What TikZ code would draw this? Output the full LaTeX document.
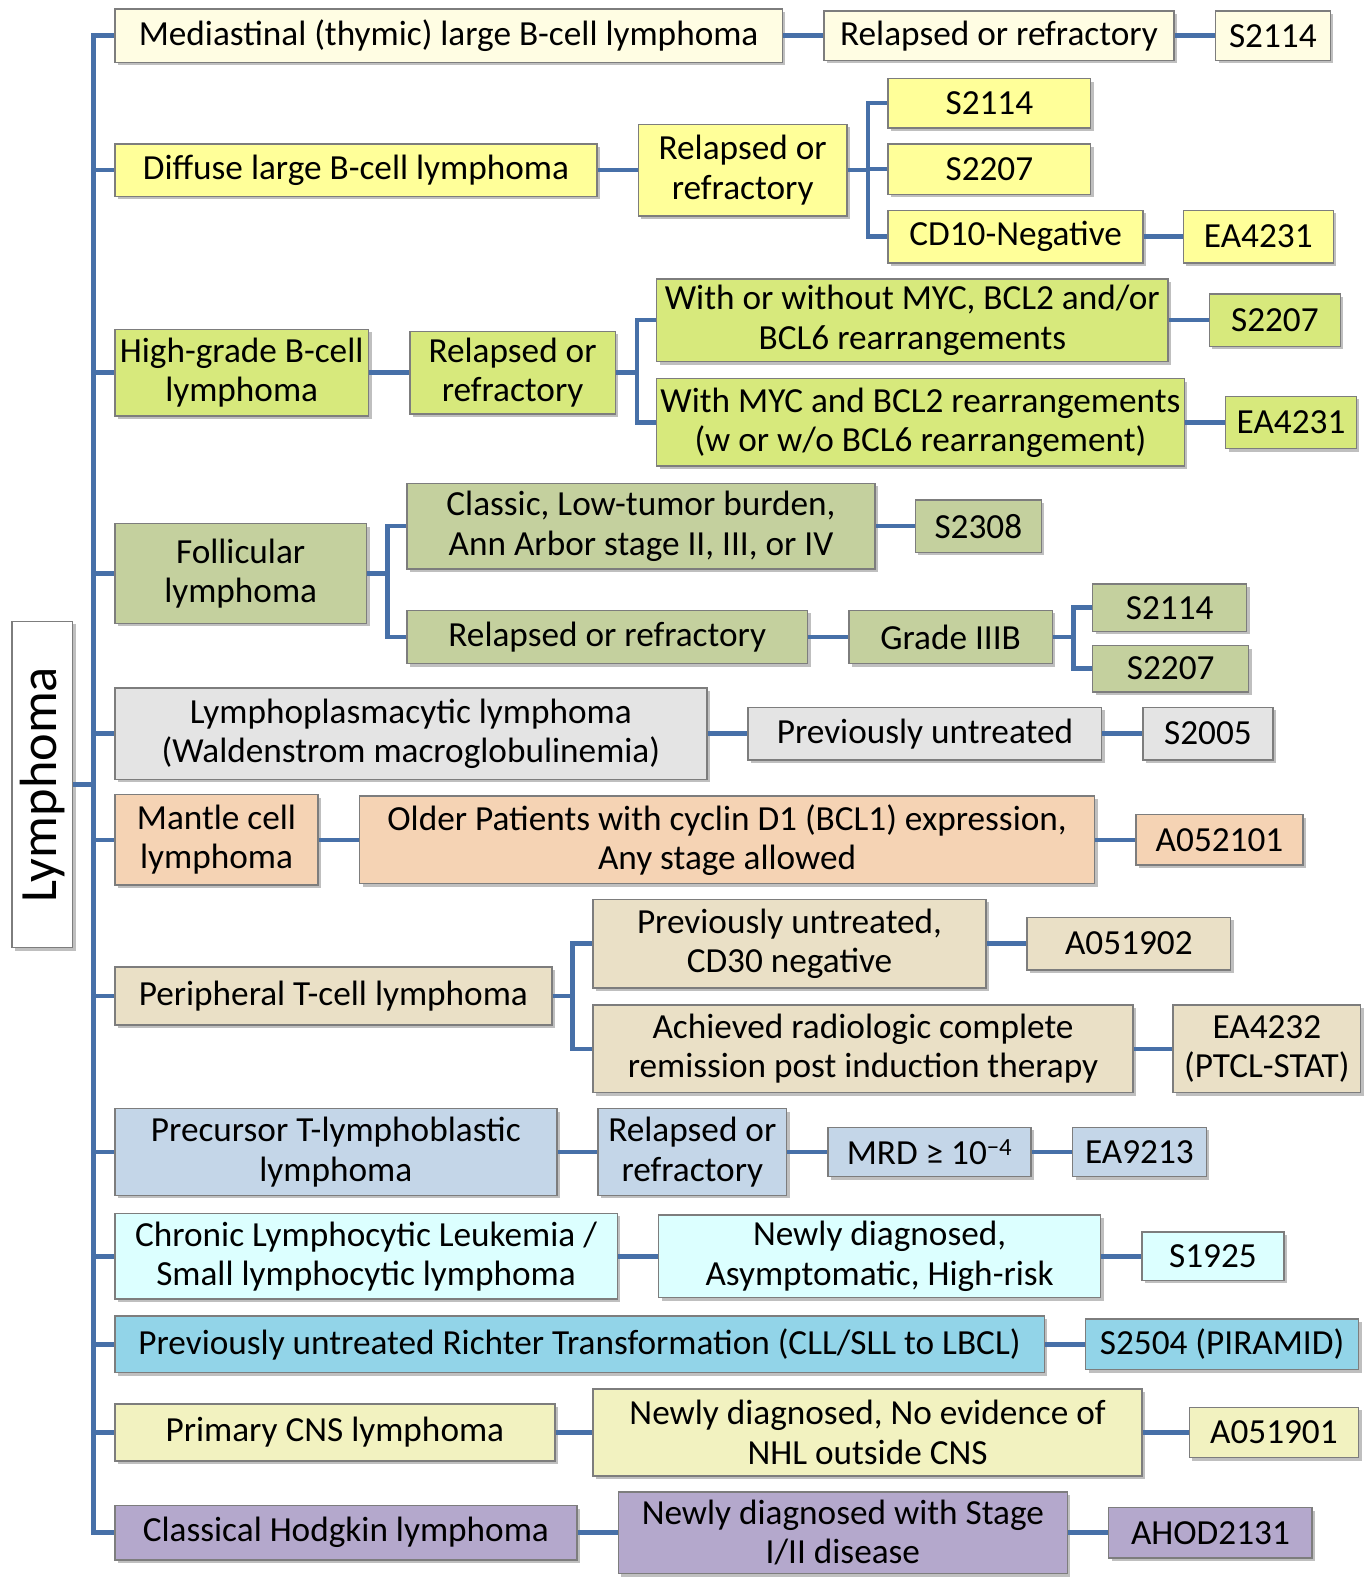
\documentclass[tikz,border=0pt]{standalone}
\usepackage{fontspec}
\setmainfont{Carlito}
\usepackage{tikz}
\usetikzlibrary{shadows}
\definecolor{lnkblue}{RGB}{71,112,168}
\definecolor{bordgray}{RGB}{125,125,125}
\definecolor{ccream}{RGB}{255,253,227}
\definecolor{cyel}{RGB}{255,255,153}
\definecolor{clime}{RGB}{215,233,124}
\definecolor{colive}{RGB}{196,208,158}
\definecolor{cgray}{RGB}{228,228,228}
\definecolor{cpeach}{RGB}{245,211,180}
\definecolor{ctan}{RGB}{234,224,198}
\definecolor{cbgray}{RGB}{196,214,232}
\definecolor{clcyan}{RGB}{220,255,255}
\definecolor{ccyan}{RGB}{146,212,232}
\definecolor{cpyel}{RGB}{242,242,192}
\definecolor{cpurp}{RGB}{180,168,204}
\tikzset{
  tbox/.style={draw=bordgray, line width=1.5pt, align=center, inner sep=2pt,
    font=\fontsize{35}{39}\selectfont,
    drop shadow={shadow xshift=3pt, shadow yshift=-3pt, fill=black, opacity=0.25}},
  sz/.style 2 args={minimum width=#1, minimum height=#2},
  lnk/.style={lnkblue, line width=4.5pt},
}

\begin{document}
\begin{tikzpicture}[x=1pt,y=-1pt]
\useasboundingbox (0,0) rectangle (1362,1568);
% root
\node[tbox, fill=white, rotate=90, sz={324}{60}, font=\fontsize{52}{56}\selectfont] (root) at (42,779) {Lymphoma};
\coordinate (trunk) at (93,779);
% mediastinal
\node[tbox, fill=ccream, sz={663}{53}] (med) at (445.5,35.5) {Mediastinal (thymic) large B-cell lymphoma};
\node[tbox, fill=ccream, sz={348}{49}] (rr1) at (992,35.5) {Relapsed or refractory};
\node[tbox, fill=ccream, sz={114}{49}] (s1) at (1264,35.5) {S2114};
% diffuse large
\node[tbox, fill=cyel, sz={479}{52}] (dlb) at (353.5,169) {Diffuse large B-cell lymphoma};
\node[tbox, fill=cyel, sz={207}{91}] (rr2) at (737.5,169) {Relapsed or\\refractory};
\node[tbox, fill=cyel, sz={201}{49}] (s2a) at (982.5,102.5) {S2114};
\node[tbox, fill=cyel, sz={201}{50}] (s2b) at (982.5,168) {S2207};
\node[tbox, fill=cyel, sz={253}{52}] (cd10) at (1008.5,235) {CD10-Negative};
\node[tbox, fill=cyel, sz={149}{52}] (ea2) at (1249.5,235) {EA4231};
% high grade
\node[tbox, fill=clime, sz={252}{86}] (hg) at (240,370) {High-grade B-cell\\lymphoma};
\node[tbox, fill=clime, sz={204}{82}] (rr3) at (509,370) {Relapsed or\\refractory};
\node[tbox, fill=clime, sz={508}{82}] (myc1) at (906,318) {With or without MYC, BCL2 and/or\\BCL6 rearrangements};
\node[tbox, fill=clime, sz={130}{52}] (s3) at (1266,318) {S2207};
\node[tbox, fill=clime, sz={524}{87}] (myc2) at (914,419.5) {With MYC and BCL2 rearrangements\\(w or w/o BCL6 rearrangement)};
\node[tbox, fill=clime, sz={130}{52}] (ea3) at (1282,419.5) {EA4231};
% follicular
\node[tbox, fill=colive, sz={250}{99}] (fol) at (239,569.5) {Follicular\\lymphoma};
\node[tbox, fill=colive, sz={465}{85}] (cls) at (636.5,522.5) {Classic, Low-tumor burden,\\Ann Arbor stage II, III, or IV};
\node[tbox, fill=colive, sz={125}{52}] (s4a) at (971.5,522.5) {S2308};
\node[tbox, fill=colive, sz={398}{53}] (rr4) at (603,632.5) {Relapsed or refractory};
\node[tbox, fill=colive, sz={202}{53}] (g3b) at (944,632.5) {Grade IIIB};
\node[tbox, fill=colive, sz={153}{47}] (s4b) at (1161.5,603.5) {S2114};
\node[tbox, fill=colive, sz={155}{46}] (s4c) at (1162.5,664) {S2207};
% lymphoplasmacytic
\node[tbox, fill=cgray, sz={588}{91}] (lpl) at (408,728.5) {Lymphoplasmacytic lymphoma\\(Waldenstrom macroglobulinemia)};
\node[tbox, fill=cgray, sz={351}{52}] (pu5) at (918.5,728.5) {Previously untreated};
\node[tbox, fill=cgray, sz={129}{52}] (s5) at (1199.5,728.5) {S2005};
% mantle cell
\node[tbox, fill=cpeach, sz={202}{90}] (mcl) at (215,834) {Mantle cell\\lymphoma};
\node[tbox, fill=cpeach, sz={730}{87}] (old) at (722,834) {Older Patients with cyclin D1 (BCL1) expression,\\Any stage allowed};
\node[tbox, fill=cpeach, sz={166}{50}] (a6) at (1211,834) {A052101};
% peripheral T-cell
\node[tbox, fill=ctan, sz={434}{58}] (ptcl) at (331,989) {Peripheral T-cell lymphoma};
\node[tbox, fill=ctan, sz={390}{88}] (pu7) at (784,937) {Previously untreated,\\CD30 negative};
\node[tbox, fill=ctan, sz={202}{52}] (a7) at (1121,937) {A051902};
\node[tbox, fill=ctan, sz={536}{87}] (ach) at (857,1041.5) {Achieved radiologic complete\\remission post induction therapy};
\node[tbox, fill=ctan, sz={186}{87}] (ea7) at (1258,1041.5) {EA4232\\(PTCL-STAT)};
% precursor T
\node[tbox, fill=cbgray, sz={439}{86}] (tlb) at (333.5,1144) {Precursor T-lymphoblastic\\lymphoma};
\node[tbox, fill=cbgray, sz={187}{86}] (rr8) at (687.5,1144) {Relapsed or\\refractory};
\node[tbox, fill=cbgray, sz={202}{49}] (mrd) at (923,1144) {MRD ≥ 10\textsuperscript{−4}};
\node[tbox, fill=cbgray, sz={133}{49}] (ea8) at (1131.5,1144) {EA9213};
% CLL/SLL
\node[tbox, fill=clcyan, sz={499}{85}] (cll) at (363.5,1247.5) {Chronic Lymphocytic Leukemia /\\Small lymphocytic lymphoma};
\node[tbox, fill=clcyan, sz={439}{82}] (nd9) at (873.5,1247.5) {Newly diagnosed,\\Asymptomatic, High-risk};
\node[tbox, fill=clcyan, sz={141}{48}] (s9) at (1204.5,1247.5) {S1925};
% Richter
\node[tbox, fill=ccyan, sz={923}{56}] (rt) at (575.5,1335) {Previously untreated Richter Transformation (CLL/SLL to LBCL)};
\node[tbox, fill=ccyan, sz={271}{50}] (s10) at (1213.5,1335) {S2504 (PIRAMID)};
% primary CNS
\node[tbox, fill=cpyel, sz={437}{57}] (cns) at (332.5,1422.5) {Primary CNS lymphoma};
\node[tbox, fill=cpyel, sz={545}{86}] (nd11) at (861.5,1422.5) {Newly diagnosed, No evidence of\\NHL outside CNS};
\node[tbox, fill=cpyel, sz={168}{50}] (a11) at (1265,1422.5) {A051901};
% Hodgkin
\node[tbox, fill=cpurp, sz={459}{54}] (chl) at (343.5,1522) {Classical Hodgkin lymphoma};
\node[tbox, fill=cpurp, sz={446}{81}] (nd12) at (837,1522) {Newly diagnosed with Stage\\I/II disease};
\node[tbox, fill=cpurp, sz={202}{50}] (a12) at (1202,1522) {AHOD2131};

% connectors
\draw[lnk] (root.south) -- (trunk);
\foreach \n in {med,dlb,hg,fol,lpl,mcl,ptcl,tlb,cll,rt,cns,chl}
  \draw[lnk] (trunk) |- (\n.west);
\foreach \a/\b in {med/rr1,rr1/s1,dlb/rr2,cd10/ea2,hg/rr3,myc1/s3,myc2/ea3,cls/s4a,rr4/g3b,
    lpl/pu5,pu5/s5,mcl/old,old/a6,pu7/a7,ach/ea7,tlb/rr8,rr8/mrd,mrd/ea8,cll/nd9,nd9/s9,
    rt/s10,cns/nd11,nd11/a11,chl/nd12,nd12/a12}
  \draw[lnk] (\a.east) -- (\b.west);
\foreach \b in {s2a,s2b,cd10} \draw[lnk] (rr2.east) -- ++(20,0) |- (\b.west);
\foreach \b in {myc1,myc2} \draw[lnk] (rr3.east) -- ++(21,0) |- (\b.west);
\foreach \b in {cls,rr4} \draw[lnk] (fol.east) -- ++(20,0) |- (\b.west);
\foreach \b in {s4b,s4c} \draw[lnk] (g3b.east) -- ++(20,0) |- (\b.west);
\foreach \b in {pu7,ach} \draw[lnk] (ptcl.east) -- ++(20,0) |- (\b.west);
\end{tikzpicture}
\end{document}
